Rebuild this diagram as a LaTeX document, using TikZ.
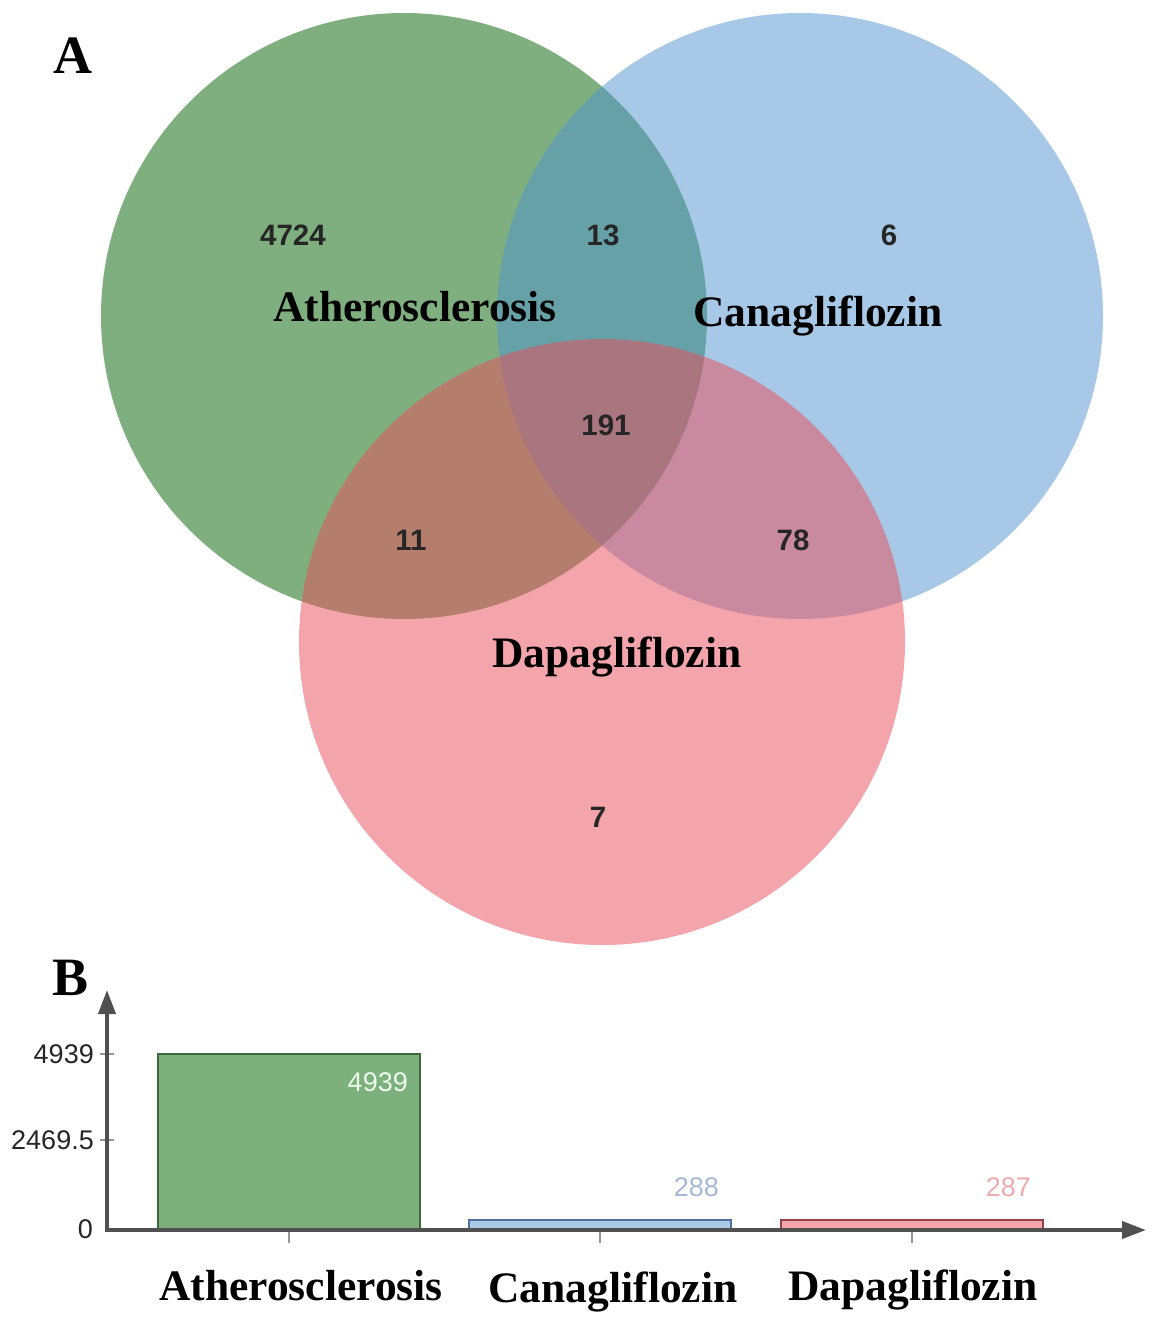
\documentclass[tikz,border=0pt]{standalone}
\usepackage{fontspec}
\setmainfont{Liberation Serif}
\newfontfamily\numfont{Liberation Sans}
\usetikzlibrary{arrows.meta}
\definecolor{vgreen}{RGB}{0,97,0}
\definecolor{vblue}{RGB}{81,149,209}
\definecolor{vred}{RGB}{235,77,89}
\definecolor{bgreen}{RGB}{125,176,125}
\definecolor{bgreenD}{RGB}{62,105,62}
\definecolor{bblue}{RGB}{168,202,232}
\definecolor{bblueD}{RGB}{80,112,155}
\definecolor{bred}{RGB}{245,166,172}
\definecolor{bredD}{RGB}{150,65,75}
\definecolor{axisgray}{RGB}{80,80,80}
\definecolor{tickgray}{RGB}{150,150,150}
\definecolor{lblblue}{RGB}{165,185,215}
\definecolor{lblred}{RGB}{238,170,172}
\tikzset{
  vset/.style={fill opacity=0.5},
  vnum/.style={font=\numfont\bfseries\fontsize{29.5}{31}\selectfont, text=black!85, inner sep=0pt},
  vlab/.style={font=\bfseries\fontsize{43.5}{48}\selectfont, anchor=base, inner sep=0pt},
  panel/.style={font=\bfseries\fontsize{54}{58}\selectfont, anchor=base, inner sep=0pt},
  axlab/.style={font=\numfont\fontsize{27}{29}\selectfont, text=black!85, anchor=east, inner sep=0pt},
  barval/.style={font=\numfont\fontsize{27}{29}\selectfont, inner sep=0pt},
  bar/.style={draw, line width=2.6pt, inner sep=0pt, outer sep=0pt, anchor=south, minimum width=262pt},
  axisline/.style={draw=axisgray, line width=4pt, -{Triangle[length=24pt,width=17pt]}},
  tickline/.style={draw=tickgray, line width=1.6pt},
}
\begin{document}
\begin{tikzpicture}[x=1pt,y=-1pt]
\useasboundingbox[fill=white] (0,0) rectangle (1159,1318);
% Venn diagram
\fill[vgreen, vset] (404,316) circle (303pt);
\fill[vblue, vset] (800,316) circle (303pt);
\fill[vred, vset] (602,642) circle (303pt);
\node[panel] (pA) at (73,73) {A};
\node[vnum] (n4724) at (293,235) {4724};
\node[vnum] (n13) at (603,235) {13};
\node[vnum] (n6) at (889,235) {6};
\node[vnum] (n191) at (606,425) {191};
\node[vnum] (n11) at (411,540) {11};
\node[vnum] (n78) at (793,540) {78};
\node[vnum] (n7) at (598,817) {7};
\node[vlab] (lAth) at (415,321) {Atherosclerosis};
\node[vlab] (lCan) at (818,326) {Canagliflozin};
\node[vlab] (lDap) at (617,667) {Dapagliflozin};
% Bar chart
\node[panel] (pB) at (71,995) {B};
\node[bar, fill=bgreen, draw=bgreenD, minimum height=176pt] (barA) at (289,1230) {};
\node[bar, fill=bblue, draw=bblueD, minimum height=10pt] (barC) at (600,1230) {};
\node[bar, fill=bred, draw=bredD, minimum height=10pt] (barD) at (912,1230) {};
\coordinate (origin) at (107,1232);
\coordinate (ytip) at (107,990);
\coordinate (xstart) at (105,1230);
\coordinate (xtip) at (1146,1230);
\coordinate (t1) at (100,1140);
\coordinate (t1e) at (114,1140);
\coordinate (t2) at (100,1054);
\coordinate (t2e) at (114,1054);
\draw[tickline] (t1) -- (t1e);
\draw[tickline] (t2) -- (t2e);
\draw[tickline] (barA.south) -- ++(0,13);
\draw[tickline] (barC.south) -- ++(0,13);
\draw[tickline] (barD.south) -- ++(0,13);
\draw[axisline] (origin) -- (ytip);
\draw[axisline] (xstart) -- (xtip);
\node[axlab] (y0) at (93,1229) {0};
\node[axlab] (y1) at (94,1140) {2469.5};
\node[axlab] (y2) at (94,1054) {4939};
\node[barval, text=white!92!green, anchor=east] (vA) at (408,1082) {4939};
\node[barval, text=lblblue, anchor=east] (vC) at (719,1187) {288};
\node[barval, text=lblred, anchor=east] (vD) at (1031,1187) {287};
\node[vlab] (xA) at (301,1300) {Atherosclerosis};
\node[vlab] (xC) at (613,1302) {Canagliflozin};
\node[vlab] (xD) at (913,1300) {Dapagliflozin};
\end{tikzpicture}
\end{document}
